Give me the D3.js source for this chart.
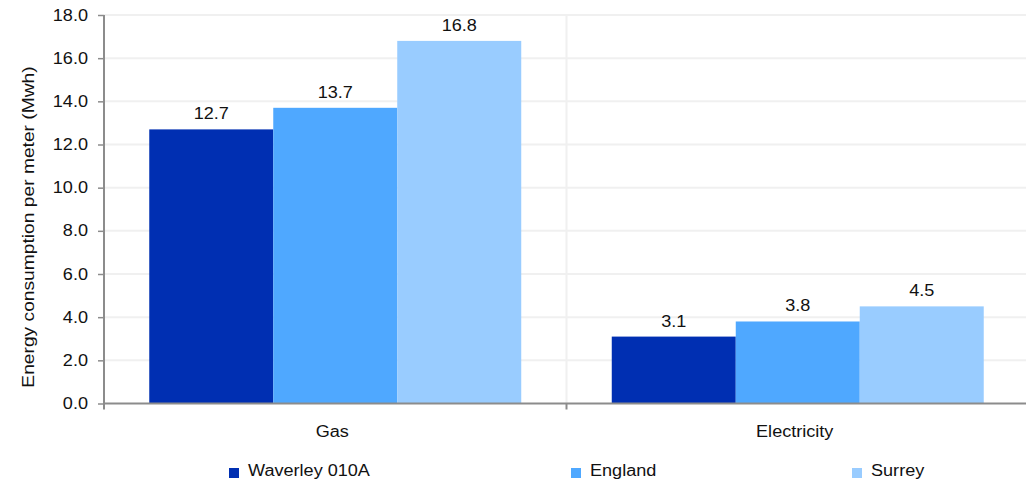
<!DOCTYPE html>
<html>
<head>
<meta charset="utf-8">
<script src="https://cdn.jsdelivr.net/npm/d3@7"></script>
<style>
  html, body { margin: 0; padding: 0; background: #fff; }
  svg { display: block; font-family: "Liberation Sans", Arial, sans-serif; }
</style>
</head>
<body>
<svg id="chart" width="1026" height="483"></svg>
<script>
const categories = ["Gas", "Electricity"];
const seriesNames = ["Waverley 010A", "England", "Surrey"];
const waverley = [12.7, 3.1];
const england = [13.7, 3.8];
const surrey = [16.8, 4.5];
const yTicks = [0, 2, 4, 6, 8, 10, 12, 14, 16, 18];
const colors = ["#002FB2", "#4FA8FF", "#99CCFF"];

const seriesValues = [waverley, england, surrey];
const svg = d3.select("#chart");

const x0 = d3.scaleBand().domain(categories).range([104, 1029]).paddingInner(0).paddingOuter(0);
const x1 = d3.scaleBand().domain(seriesNames).range([0, x0.bandwidth()]).paddingInner(0).paddingOuter(0.365);
const y = d3.scaleLinear().domain([0, 18]).range([403.5, 15]);

// Horizontal gridlines
svg.append("g").selectAll("line").data(yTicks.filter(d => d > 0)).join("line")
  .attr("x1", 104).attr("x2", 1029)
  .attr("y1", d => y(d)).attr("y2", d => y(d))
  .attr("stroke", "#f0f0f0").attr("stroke-width", 2);

// Vertical gridline between categories
svg.append("g").selectAll("line").data(categories.slice(1)).join("line")
  .attr("x1", d => x0(d)).attr("x2", d => x0(d))
  .attr("y1", y(18)).attr("y2", y(0))
  .attr("stroke", "#f0f0f0").attr("stroke-width", 2);

// Bars
const groups = svg.append("g").selectAll("g").data(categories).join("g")
  .attr("transform", d => `translate(${x0(d)},0)`);

groups.each(function(cat, ci) {
  const g = d3.select(this);
  const data = seriesNames.map((s, si) => ({ s, si, v: seriesValues[si][ci] }));
  g.selectAll("rect").data(data).join("rect")
    .attr("x", d => x1(d.s))
    .attr("width", x1.bandwidth())
    .attr("y", d => y(d.v))
    .attr("height", d => y(0) - y(d.v))
    .attr("fill", d => colors[d.si]);
  g.selectAll("text").data(data).join("text")
    .attr("class", "stretch")
    .attr("x", d => x1(d.s) + x1.bandwidth() / 2)
    .attr("y", d => y(d.v) - 10)
    .attr("text-anchor", "middle")
    .attr("font-size", 16)
    .attr("fill", "#111")
    .text(d => d.v.toFixed(1));
});

// Y axis
const yAxis = d3.axisLeft(y).tickValues(yTicks).tickFormat(d3.format(".1f")).tickSize(6).tickPadding(10);
const ya = svg.append("g").attr("transform", "translate(104,0)").call(yAxis);
ya.select(".domain").remove();
ya.selectAll(".tick line").attr("stroke", "#8c8c8c").attr("stroke-width", 1.5);
ya.selectAll(".tick text").attr("class", "stretch").attr("font-size", 16).attr("fill", "#111")
  .attr("font-family", "Liberation Sans, Arial, sans-serif");
svg.append("line").attr("x1", 104).attr("x2", 104).attr("y1", y(18)).attr("y2", y(0) + 6)
  .attr("stroke", "#8c8c8c").attr("stroke-width", 2);

// X axis
svg.append("line").attr("x1", 103).attr("x2", 1029).attr("y1", y(0)).attr("y2", y(0))
  .attr("stroke", "#8c8c8c").attr("stroke-width", 2);
svg.append("g").selectAll("line").data(categories.slice(1)).join("line")
  .attr("x1", d => x0(d)).attr("x2", d => x0(d))
  .attr("y1", y(0)).attr("y2", y(0) + 6)
  .attr("stroke", "#8c8c8c").attr("stroke-width", 2);
svg.append("g").selectAll("text").data(categories).join("text")
  .attr("class", "stretch")
  .attr("x", d => x0(d) + x0.bandwidth() / 2 - 3)
  .attr("y", 437)
  .attr("text-anchor", "middle")
  .attr("font-size", 16)
  .attr("fill", "#111")
  .text(d => d);

// Y axis title
svg.append("text")
  .attr("class", "stretch")
  .attr("transform", `translate(33.5,227) rotate(-90)`)
  .attr("text-anchor", "middle")
  .attr("font-size", 17)
  .attr("fill", "#111")
  .text("Energy consumption per meter (Mwh)");

// Legend
const legendX = [229, 571, 852];
const lg = svg.append("g").selectAll("g").data(seriesNames).join("g")
  .attr("transform", (d, i) => `translate(${legendX[i]},468)`);
lg.append("rect").attr("width", 10).attr("height", 10).attr("fill", (d, i) => colors[i]);
lg.append("text").attr("class", "stretch").attr("x", 19).attr("y", 7.5)
  .attr("font-size", 16).attr("fill", "#111").text(d => d);

// Reference text is rendered slightly wider than Arial metrics; widen glyphs to match
svg.selectAll("text.stretch").each(function() {
  const len = this.getComputedTextLength();
  d3.select(this).attr("textLength", len * 1.13).attr("lengthAdjust", "spacingAndGlyphs");
});
</script>
</body>
</html>
